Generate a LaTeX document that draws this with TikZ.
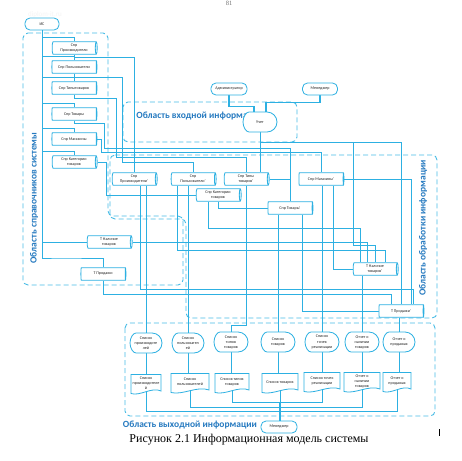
\documentclass[tikz,border=0pt]{standalone}
\usepackage{fontspec}
\setmainfont{Carlito}
\newfontfamily\serifcap{Liberation Serif}
\usepackage{tikz}
\usetikzlibrary{shapes.geometric,backgrounds,calc}
\definecolor{wireblue}{RGB}{45,176,226}
\definecolor{areablue}{RGB}{72,188,230}
\definecolor{titleblue}{RGB}{38,122,192}
\tikzset{
  wire/.style  ={draw=wireblue,line width=0.7pt},
  feed/.style  ={draw=wireblue,line width=1.2pt},
  area/.style  ={draw=areablue,line width=0.9pt,dash pattern=on 5pt off 3pt,rounded corners=5pt},
  txt/.style   ={font=\fontsize{4.1}{5}\selectfont,align=center,text=black!85,inner sep=0pt},
  shp/.style   ={draw=wireblue,line width=0.8pt,fill=white},
  term/.style  ={txt,shp,rounded corners=5pt,minimum width=35pt,minimum height=12pt},
  store/.style ={txt,shp,cylinder,aspect=0.22,minimum height=45pt,minimum width=12.5pt},
  ttl/.style   ={font=\fontsize{9.5}{10}\selectfont\bfseries,text=titleblue},
}
% display symbol: name, x, y, half width, text
\newcommand\dispbox[5]{%
  \begin{scope}[shift={(#2,#3)}]
    \def\dA{#4}\def\dB{10}
    \draw[shp] (-\dA+6,-\dB) -- (\dA-\dB,-\dB)
      .. controls (\dA-0.45*\dB,-\dB) and (\dA,-0.55*\dB) .. (\dA,0)
      .. controls (\dA,0.55*\dB) and (\dA-0.45*\dB,\dB) .. (\dA-\dB,\dB)
      -- (-\dA+6,\dB)
      .. controls (-\dA+3,\dB) and (-\dA,0.5*\dB) .. (-\dA,0)
      .. controls (-\dA,-0.5*\dB) and (-\dA+3,-\dB) .. cycle;
    \node[txt,minimum width=#4pt*2,minimum height=20pt] (#1) at (0,0) {#5};
  \end{scope}}
% document symbol: name, x, y, half width, text
\newcommand\docbox[5]{%
  \begin{scope}[shift={(#2,#3)}]
    \def\dA{#4}\def\dB{9.5}
    \draw[shp] (-\dA,-\dB) -- (\dA,-\dB) -- (\dA,\dB-2.5)
      .. controls (0.4*\dA,\dB-7) and (-0.4*\dA,\dB+3) .. (-\dA,\dB) -- cycle;
    \node[txt,minimum width=#4pt*2,minimum height=17pt] (#1) at (0,-1) {#5};
  \end{scope}}

\begin{document}
\begin{tikzpicture}[x=1pt,y=-1pt]
  \useasboundingbox (0,0) rectangle (462,460);
  % watermark and page number
  \node[font=\fontsize{7}{8}\selectfont,text=black!4] (wmtop) at (45,15) {diplom-it.ru};
  \node[font=\serifcap\fontsize{6.5}{7}\selectfont,text=black!55] (pgno) at (229,3) {81};

  % TOP: actors
  \node[term,minimum width=34pt] (is) at (42,24) {ИС};
  \node[term,minimum width=36pt] (adm) at (229,89) {Администратор};
  \node[term] (mgrtop) at (320,89) {Менеджер};

  % LEFT: reference stores
  \node[store] (sprod) at (74,48) {Спр\\Производители};
  \node[store] (suser) at (74,67) {Спр Пользователи};
  \node[store] (stype) at (74,88) {Спр Типытоваров};
  \node[store] (sgood) at (74,114) {Спр Товары};
  \node[store] (sshop) at (74,139) {Спр Магазины};
  \node[store] (scat)  at (74,162) {Спр Категории\\товаров};
  \node[store] (tstock) at (109,242) {Т Наличие\\товаров};
  \node[store] (tsale)  at (103,274) {Т Продажи};

  % region titles (input one is partly hidden by Учет)
  \node[ttl] (lblin) at (200,116) {Область входной информации};
  \node[ttl,rotate=90] (lblref) at (34,198) {Область справочников системы};
  \node[ttl,rotate=90] (lblproc) at (423,228) {Область обработки информации};
  \node[ttl] (lblout) at (190,425) {Область выходной информации};

  \dispbox{uch}{260}{122}{17}{Учет}

  % MIDDLE: processed copies
  \node[store] (pprod) at (134,179) {Спр\\Производители'};
  \node[store] (puser) at (193,179) {Спр\\Пользователи'};
  \node[store] (ptype) at (246,179) {Спр Типы\\товаров'};
  \node[store] (pcat)  at (218,195) {Спр Категории\\товаров};
  \node[store] (pshop) at (321,179) {Спр Магазины'};
  \node[store] (pgood) at (290,208) {Спр Товары'};
  \node[store] (pstock) at (375,269) {Т Наличие\\товаров'};
  \node[store] (psale)  at (401,311) {Т Продажи'};

  % BOTTOM: displays and reports
  \dispbox{lprod}{146}{343}{16}{Список\\производите\\лей}
  \dispbox{luser}{188}{343}{16}{Список\\пользовател\\ей}
  \dispbox{ltype}{231}{342}{17}{Список\\типов\\товаров}
  \dispbox{lgood}{278}{342}{17}{Список\\товаров}
  \dispbox{lshop}{322}{342}{17}{Список\\точек\\реализации}
  \dispbox{lstock}{362}{342}{17}{Отчет о\\наличии\\товаров}
  \dispbox{lsale}{399}{342}{16}{Отчет о\\продажах}
  \docbox{rprod}{146}{384}{15}{Список\\производителе\\й}
  \docbox{ruser}{190}{383}{19}{Список\\пользователей}
  \docbox{rtype}{232}{383}{17}{Список типов\\товаров}
  \docbox{rgood}{280}{383}{18}{Список товаров}
  \docbox{rshop}{322}{382}{18}{Список точек\\реализации}
  \docbox{rstock}{362}{382}{18}{Отчет о\\наличии\\товаров}
  \docbox{rsale}{397}{382}{14}{Отчет о\\продажах}
  \node[term,minimum width=36pt] (mgrbot) at (279,427) {Менеджер};

  \node[font=\serifcap\fontsize{12}{14}\selectfont] (cap) at (249,440) {Рисунок 2.1 Информационная модель системы};
  \draw[line width=1pt] (439,429) -- (439,436);

  \begin{scope}[on background layer]
    \fill[white] (0,0) rectangle (462,460);
    % dashed areas
    \draw[area] (23,33) -- (108,33) -- (108,216) -- (183,216) -- (183,285) -- (23,285) -- cycle;
    \draw[area] (110,155) -- (437,155) -- (437,318) -- (186,318) -- (186,219) -- (110,219) -- cycle;
    \draw[area] (123,102) rectangle (297,142);
    \draw[area] (125,323) rectangle (435,416);

    % IS feeds the reference stores
    \foreach \n in {sprod,suser,stype,sgood,sshop,scat}
      \draw[wire] (is.south) |- ([yshift=4pt]\n.north) -- (\n.north);
    \draw[wire] (is.south) |- (tstock.west);
    \draw[wire] (is.south) |- (60,258) -| (tsale.north);

    % reference stores to their copies
    \draw[wire] (sprod.south) -- ++(0,3) -| (pprod.north);
    \draw[wire] (suser.south) -- ++(0,4) -| (122,162) -| (puser.north);
    \draw[wire] (stype.south) -- ++(0,4) -| (116,157) -| (ptype.north);
    \draw[wire] (sgood.south) -- ++(0,3) -| (104,148) -| (pgood.north);
    \draw[wire] (sshop.east) -| (101,152) -| (pshop.north);
    \draw[wire] (scat.east) -- ++(9,0) |- (pcat.west);

    % input side
    \draw[feed] (adm.south) -- ++(0,11) -| ([xshift=-6pt]uch.north);
    \draw[feed] (mgrtop.south) -- ++(0,7) -| ([xshift=6pt]uch.north);
    \draw[wire] (uch.south) -- (uch.south |- ptype.north);
    \draw[wire] (uch.south) -- ++(0,10) -| (psale.north);
    \draw[wire] (uch.south) -- ++(0,10) -| (353,245) -| (pstock.north);

    % processing web
    \draw[wire] (tstock.east) -| ([xshift=-8pt]pstock.north);
    \draw[wire] (tsale.south) -- ++(0,14) -| ([xshift=-10pt]psale.north);
    \draw[wire] ([xshift=6pt]pprod.south) -- ++(0,104) -| ([xshift=12pt]psale.north);
    \draw[wire] ([xshift=-16pt]puser.south) -- ++(0,65) -| ([xshift=10pt]pstock.north);
    \draw[wire] ([xshift=12pt]pshop.south) |- (pstock.west);
    \draw[wire] ([xshift=12pt]pgood.south) |- (psale.west);
    \draw[wire] (pshop.east) -| ([xshift=10pt]psale.north);
    \draw[wire] (pcat.south) |- (pgood.west);
    \draw[wire] (ptype.east) -| (pgood.north);
    \draw[wire] ([xshift=-10pt]pcat.south) -- ++(0,27) -| ([xshift=-15pt]pstock.north);

    % copies to displays
    \draw[wire] (pprod.south -| lprod.north) -- (lprod.north);
    \draw[wire] (puser.south -| luser.north) -- (luser.north);
    \draw[wire] (ptype.south) |- ([yshift=6pt]ltype.north) -- (ltype.north);
    \draw[wire] (pgood.south -| lgood.north) -- (lgood.north);
    \draw[wire] (pshop.south -| lshop.north) -- (lshop.north);
    \draw[wire] (pstock.south -| lstock.north) -- (lstock.north);
    \draw[wire] (psale.south -| lsale.north) -- (lsale.north);

    % displays to reports, reports to manager
    \foreach \a/\b in {lprod/rprod,luser/ruser,ltype/rtype,lgood/rgood,lshop/rshop,lstock/rstock,lsale/rsale}
      \draw[wire] (\a.south) -- (\a.south |- \b.north);
    \foreach \r/\k in {rprod/9,rsale/9,ruser/13,rstock/13,rtype/18,rshop/18}
      \draw[wire] (\r.south) |- ([yshift=\k pt]mgrbot.north) -- (mgrbot.north);
    \draw[wire] (rgood.south) -- (rgood.south |- mgrbot.north);
  \end{scope}
\end{tikzpicture}
\end{document}
